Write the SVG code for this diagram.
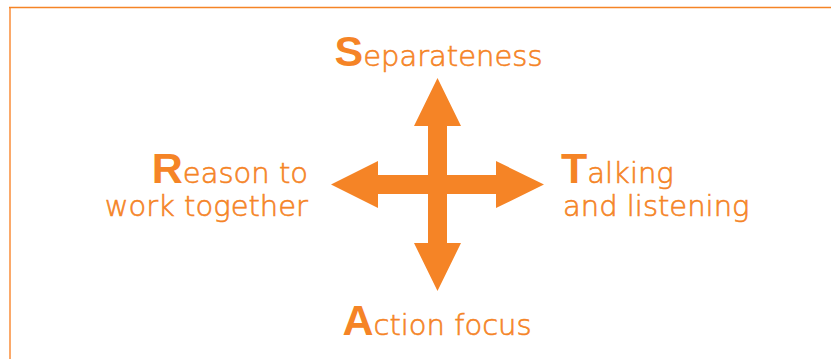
<svg xmlns="http://www.w3.org/2000/svg" width="831" height="359" viewBox="0 0 831 359">
<style>
.t{font-family:"DejaVu Sans","Liberation Sans",sans-serif;font-weight:200;font-size:29px;fill:#F58426;stroke:#F58426;stroke-width:0.6px}
.b{font-family:"Liberation Sans",Arial,sans-serif;font-weight:bold;font-size:43px;stroke:none}
.arrow{fill:#F58426}
</style>
<rect width="831" height="359" fill="#ffffff"/>
<g id="frame">
<line x1="10" y1="7" x2="10" y2="359" stroke="#FBA96A" stroke-width="2"/>
<line x1="9" y1="7.5" x2="831" y2="7.5" stroke="#F58426" stroke-width="1.5"/>
</g>
<g id="connectors">
<path class="arrow" d="M437.5,78 L461,126 L447,126 L447,175 L496,175 L496,161 L544,184.5 L496,208 L496,194 L447,194 L447,243 L461,243 L437.5,291 L414,243 L428,243 L428,194 L378,194 L378,208 L331,184.5 L378,161 L378,175 L428,175 L428,126 L414,126 Z"/>
</g>
<g id="separateness">
<text class="t" x="438.5" y="66" text-anchor="middle"><tspan class="b">S</tspan>eparateness</text>
</g>
<g id="reason">
<text class="t" x="308" y="183" text-anchor="end"><tspan class="b">R</tspan>eason to</text>
<text class="t" x="308" y="216" text-anchor="end">work together</text>
</g>
<g id="talking">
<text class="t" x="561" y="183"><tspan class="b">T</tspan>alking</text>
<text class="t" x="563" y="216">and listening</text>
</g>
<g id="action">
<text class="t" x="437" y="335" text-anchor="middle"><tspan class="b">A</tspan>ction focus</text>
</g>
</svg>
